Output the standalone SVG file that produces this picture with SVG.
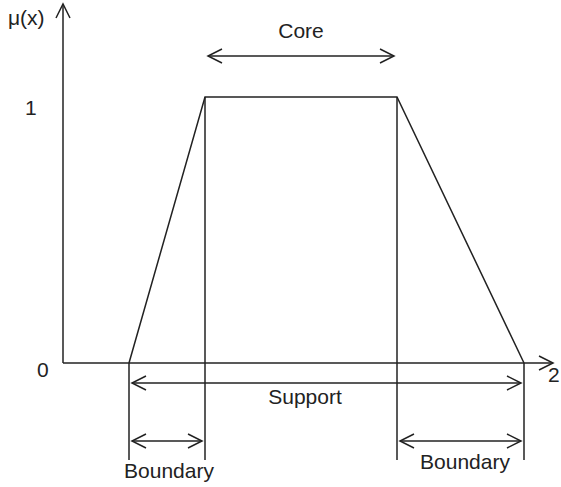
<svg xmlns="http://www.w3.org/2000/svg" width="561" height="487" viewBox="0 0 561 487">
  <style>
    .ln { stroke: #222; stroke-width: 1.5; fill: none; }
    .arr { stroke: #222; stroke-width: 1.5; fill: none; marker-end: url(#ah); }
    .dbl { stroke: #222; stroke-width: 1.5; fill: none; marker-start: url(#ah); marker-end: url(#ah); }
    .t { font-family: "Liberation Sans", Arial, Helvetica, sans-serif; font-size: 21px; fill: #222; }
  </style>
  <defs>
    <marker id="ah" markerUnits="userSpaceOnUse" markerWidth="20" markerHeight="20" viewBox="-16 -10 20 20" refX="0" refY="0" orient="auto-start-reverse" overflow="visible">
      <path d="M-14,-7 L0,0 L-14,7" fill="none" stroke="#222" stroke-width="1.5"/>
    </marker>
  </defs>

  <g id="axes">
    <line class="arr" x1="63" y1="363" x2="63" y2="4"/>
    <line class="arr" x1="63" y1="363" x2="553" y2="363"/>
  </g>

  <g id="membership">
    <polyline class="ln" points="129,363 205,97 397,97 524,363"/>
  </g>

  <g id="guides">
    <line class="ln" x1="129" y1="363" x2="129" y2="460"/>
    <line class="ln" x1="205" y1="97" x2="205" y2="460"/>
    <line class="ln" x1="397" y1="97" x2="397" y2="460"/>
    <line class="ln" x1="524" y1="363" x2="524" y2="460"/>
  </g>

  <g id="connectors">
    <line class="dbl" x1="208" y1="56" x2="394" y2="56"/>
    <line class="dbl" x1="132" y1="383" x2="521" y2="383"/>
    <line class="dbl" x1="132" y1="441" x2="202" y2="441"/>
    <line class="dbl" x1="400" y1="441" x2="521" y2="441"/>
  </g>

  <g id="labels">
    <text class="t" x="8" y="25">μ(x)</text>
    <text class="t" x="25" y="115">1</text>
    <text class="t" x="37" y="377">0</text>
    <text class="t" x="548" y="382">2</text>
    <text class="t" x="301" y="38" text-anchor="middle">Core</text>
    <text class="t" x="305" y="404" text-anchor="middle">Support</text>
    <text class="t" x="169" y="478" text-anchor="middle">Boundary</text>
    <text class="t" x="465" y="469" text-anchor="middle">Boundary</text>
  </g>
</svg>
